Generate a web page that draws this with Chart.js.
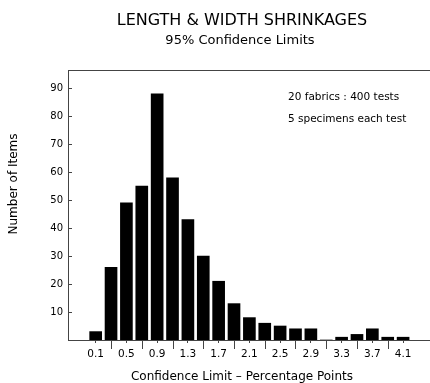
<!DOCTYPE html>
<html>
<head>
<meta charset="utf-8">
<style>
  html, body { margin: 0; padding: 0; background: #fff; }
  #wrap { width: 430px; height: 383px; position: relative; }
</style>
<script src="https://cdn.jsdelivr.net/npm/chart.js@4/dist/chart.umd.min.js"></script>
</head>
<body>
<div id="wrap"><canvas id="c" width="430" height="383"></canvas></div>
<script>
// Confidence limit classes (percentage points), centre of each bin
const limits = [0.1, 0.3, 0.5, 0.7, 0.9, 1.1, 1.3, 1.5, 1.7, 1.9, 2.1,
                2.3, 2.5, 2.7, 2.9, 3.1, 3.3, 3.5, 3.7, 3.9, 4.1];
// Number of items in each class
const counts = [3, 26, 49, 55, 88, 58, 43, 30, 21, 13, 8,
                6, 5, 4, 4, 0, 1, 2, 4, 1, 1];
// Labelled x ticks and the long unlabelled ticks between them
const xLabelTicks = [0.1, 0.5, 0.9, 1.3, 1.7, 2.1, 2.5, 2.9, 3.3, 3.7, 4.1];
const xMidTicks = [0.3, 0.7, 1.1, 1.5, 1.9, 2.3, 2.7, 3.1, 3.5, 3.9];
const yTicks = [10, 20, 30, 40, 50, 60, 70, 80, 90];

const titleText = 'LENGTH & WIDTH SHRINKAGES';
const subtitleText = '95% Confidence Limits';
const noteLines = ['20 fabrics : 400 tests', '5 specimens each test'];
const xTitle = 'Confidence Limit \u2013 Percentage Points';
const yTitle = 'Number of Items';

const FONT = '"DejaVu Sans", sans-serif';
const AXIS = '#444';

const points = limits.map((x, i) => ({ x: x, y: counts[i] }));

// Frame line, tick marks and the free text around the plot
const decorations = {
  id: 'decorations',
  afterDraw(chart) {
    const ctx = chart.ctx;
    const a = chart.chartArea;
    const xs = chart.scales.x;
    const ys = chart.scales.y;
    ctx.save();
    ctx.strokeStyle = AXIS;
    ctx.lineWidth = 1;
    ctx.beginPath();
    // top frame line
    ctx.moveTo(a.left, Math.round(a.top) + 0.5);
    ctx.lineTo(a.right, Math.round(a.top) + 0.5);
    // long ticks between labelled categories
    xMidTicks.forEach(v => {
      const px = Math.round(xs.getPixelForValue(v)) + 0.5;
      ctx.moveTo(px, a.bottom);
      ctx.lineTo(px, a.bottom + 9);
    });
    // inward y ticks
    yTicks.forEach(v => {
      const py = Math.round(ys.getPixelForValue(v)) + 0.5;
      ctx.moveTo(a.left, py);
      ctx.lineTo(a.left + 4, py);
    });
    ctx.stroke();

    ctx.fillStyle = '#000';
    ctx.textBaseline = 'middle';
    ctx.textAlign = 'center';
    ctx.font = '16px ' + FONT;
    ctx.fillText(titleText, 242, 21);
    ctx.font = '13px ' + FONT;
    ctx.fillText(subtitleText, 240, 41);
    ctx.font = '12px ' + FONT;
    ctx.fillText(xTitle, 242, 377);

    ctx.textAlign = 'left';
    ctx.font = '10.5px ' + FONT;
    ctx.fillText(noteLines[0], 288, 97);
    ctx.fillText(noteLines[1], 288, 119.5);

    ctx.translate(14, 184);
    ctx.rotate(-Math.PI / 2);
    ctx.textAlign = 'center';
    ctx.font = '12px ' + FONT;
    ctx.fillText(yTitle, 0, 0);
    ctx.restore();
  }
};

new Chart(document.getElementById('c'), {
  type: 'bar',
  data: {
    datasets: [{
      data: points,
      backgroundColor: '#000',
      borderWidth: 0,
      barThickness: 12
    }]
  },
  options: {
    responsive: false,
    animation: false,
    devicePixelRatio: 1,
    layout: { padding: { top: 70, right: 0, bottom: 0, left: 0 } },
    plugins: {
      legend: { display: false },
      title: { display: false },
      tooltip: { enabled: false }
    },
    scales: {
      x: {
        type: 'linear',
        min: -0.26,
        max: 4.45,
        offset: false,
        afterBuildTicks: s => { s.ticks = xLabelTicks.map(v => ({ value: v })); },
        afterFit: s => { s.height = 43; },
        grid: { display: true, offset: false, drawOnChartArea: false, drawTicks: true, tickLength: 3, color: AXIS, tickColor: AXIS },
        border: { display: true, color: AXIS, width: 1 },
        ticks: {
          padding: 5,
          color: '#000',
          font: { family: FONT, size: 10.5 },
          maxRotation: 0,
          autoSkip: false,
          callback: v => Number(v).toFixed(1)
        }
      },
      y: {
        min: 0,
        max: 96.5,
        afterBuildTicks: s => { s.ticks = yTicks.map(v => ({ value: v })); },
        afterFit: s => { s.width = 68; },
        grid: { display: false, drawTicks: false },
        border: { display: true, color: AXIS, width: 1 },
        ticks: {
          padding: 5,
          color: '#000',
          font: { family: FONT, size: 10 },
          autoSkip: false
        }
      }
    }
  },
  plugins: [decorations]
});
</script>
</body>
</html>
